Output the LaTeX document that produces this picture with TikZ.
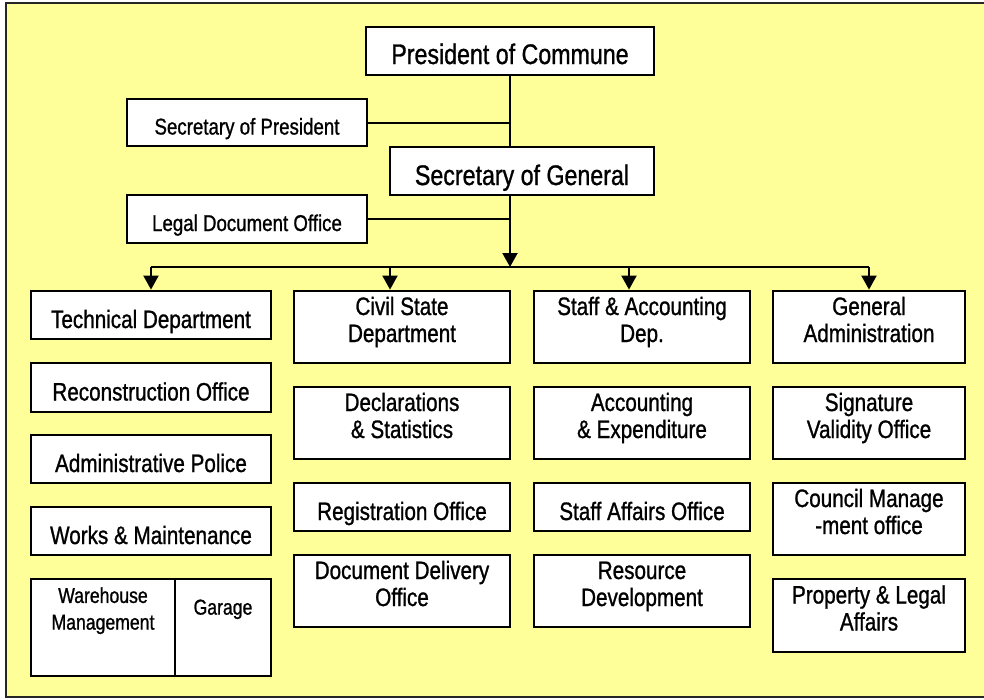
\documentclass[tikz,border=0pt]{standalone}
\usepackage{fontspec}
\setmainfont{Liberation Sans}[FakeStretch=0.82,FakeBold=1]
\usetikzlibrary{arrows.meta}
\definecolor{bgyellow}{RGB}{255,255,153}

\begin{document}
\begin{tikzpicture}[x=1pt,y=-1pt,
	box/.style={draw,line width=2.8pt,fill=white,align=center,inner sep=0pt,font=\fontsize{25.2}{27}\selectfont},
	big/.style={font=\fontsize{28.3}{30}\selectfont},
	small/.style={font=\fontsize{21.5}{26.7}\selectfont},
	side/.style={font=\fontsize{22.8}{26}\selectfont,text height=24pt,text depth=0pt},
	one/.style={text height=26pt,text depth=0pt},
	two/.style={text height=30pt,text depth=0pt},
	link/.style={line width=2pt},
	arr/.style={line width=2pt,-{Triangle[width=15pt,length=14pt]}}]
	\useasboundingbox (0,0) rectangle (984,699);
	\fill[bgyellow] (6,3) rectangle (984,697);
	\draw[line width=2pt,black!85] (984,3) -| (6,697) -- (984,697);
	
	% top of the chart
	\node[box,big,one,minimum width=288pt,minimum height=48pt] (pres) at (510,51) {President of Commune};
	\node[box,side,minimum width=240pt,minimum height=47pt] (secp) at (247,122.5) {Secretary of President};
	\node[box,big,text height=28pt,text depth=0pt,minimum width=264pt,minimum height=48pt] (secg) at (522,171) {Secretary of General};
	\node[box,side,minimum width=240pt,minimum height=48pt] (legal) at (247,219) {Legal Document Office};
	\coordinate (bus) at (510,267);
	
	% first column
	\node[box,one,minimum width=240pt,minimum height=48pt] (tech) at (151,315) {Technical Department};
	\node[box,one,minimum width=240pt,minimum height=49pt] (recon) at (151,387.5) {Reconstruction Office};
	\node[box,one,minimum width=240pt,minimum height=48pt] (police) at (151,459) {Administrative Police};
	\node[box,one,minimum width=240pt,minimum height=48pt] (works) at (151,531) {Works \& Maintenance};
	\node[box,minimum width=144pt,minimum height=97pt] (wh) at (103,627.5) {};
	\node[box,minimum width=96pt,minimum height=97pt] (garage) at (223,627.5) {};
	\node[small,align=center,anchor=base] (whtext) at ([yshift=-52pt]wh.north) {Warehouse\\Management};
	\node[small,anchor=base] (garagetext) at ([yshift=-37pt]garage.north) {Garage};
	
	% second column
	\node[box,two,minimum width=216pt,minimum height=72pt] (civil) at (402,327) {Civil State\\Department};
	\node[box,two,minimum width=216pt,minimum height=72pt] (decl) at (402,423) {Declarations\\\& Statistics};
	\node[box,one,minimum width=216pt,minimum height=48pt] (regis) at (402,507) {Registration Office};
	\node[box,two,minimum width=216pt,minimum height=72pt] (deliv) at (402,591) {Document Delivery\\Office};
	
	% third column
	\node[box,two,minimum width=216pt,minimum height=72pt] (staff) at (642,327) {Staff \& Accounting\\Dep.};
	\node[box,two,minimum width=216pt,minimum height=72pt] (acc) at (642,423) {Accounting\\\& Expenditure};
	\node[box,one,minimum width=216pt,minimum height=48pt] (affairs) at (642,507) {Staff Affairs Office};
	\node[box,two,minimum width=216pt,minimum height=72pt] (resource) at (642,591) {Resource\\Development};
	
	% fourth column
	\node[box,two,minimum width=192pt,minimum height=72pt] (admin) at (869,327) {General\\Administration};
	\node[box,two,minimum width=192pt,minimum height=72pt] (sign) at (869,423) {Signature\\Validity Office};
	\node[box,two,minimum width=192pt,minimum height=72pt] (council) at (869,519) {Council Manage\\-ment office};
	\node[box,two,minimum width=192pt,minimum height=73pt] (prop) at (869,615.5) {Property \& Legal\\Affairs};
	
	% connectors
	\draw[link] (pres.south) -- (pres.south |- secg.north);
	\draw[link] (secp.east) -- (secp.east -| pres.south);
	\draw[arr] (pres.south |- secg.south) -- (bus);
	\draw[link] (legal.east) -- (legal.east -| bus);
	\draw[link] (bus -| tech.north) -- (bus -| admin.north);
	\draw[arr] (bus -| tech.north) -- (tech.north);
	\draw[arr] ([xshift=-12pt]civil.north |- bus) -- ([xshift=-12pt]civil.north);
	\draw[arr] ([xshift=-13pt]staff.north |- bus) -- ([xshift=-13pt]staff.north);
	\draw[arr] (bus -| admin.north) -- (admin.north);
\end{tikzpicture}
\end{document}
